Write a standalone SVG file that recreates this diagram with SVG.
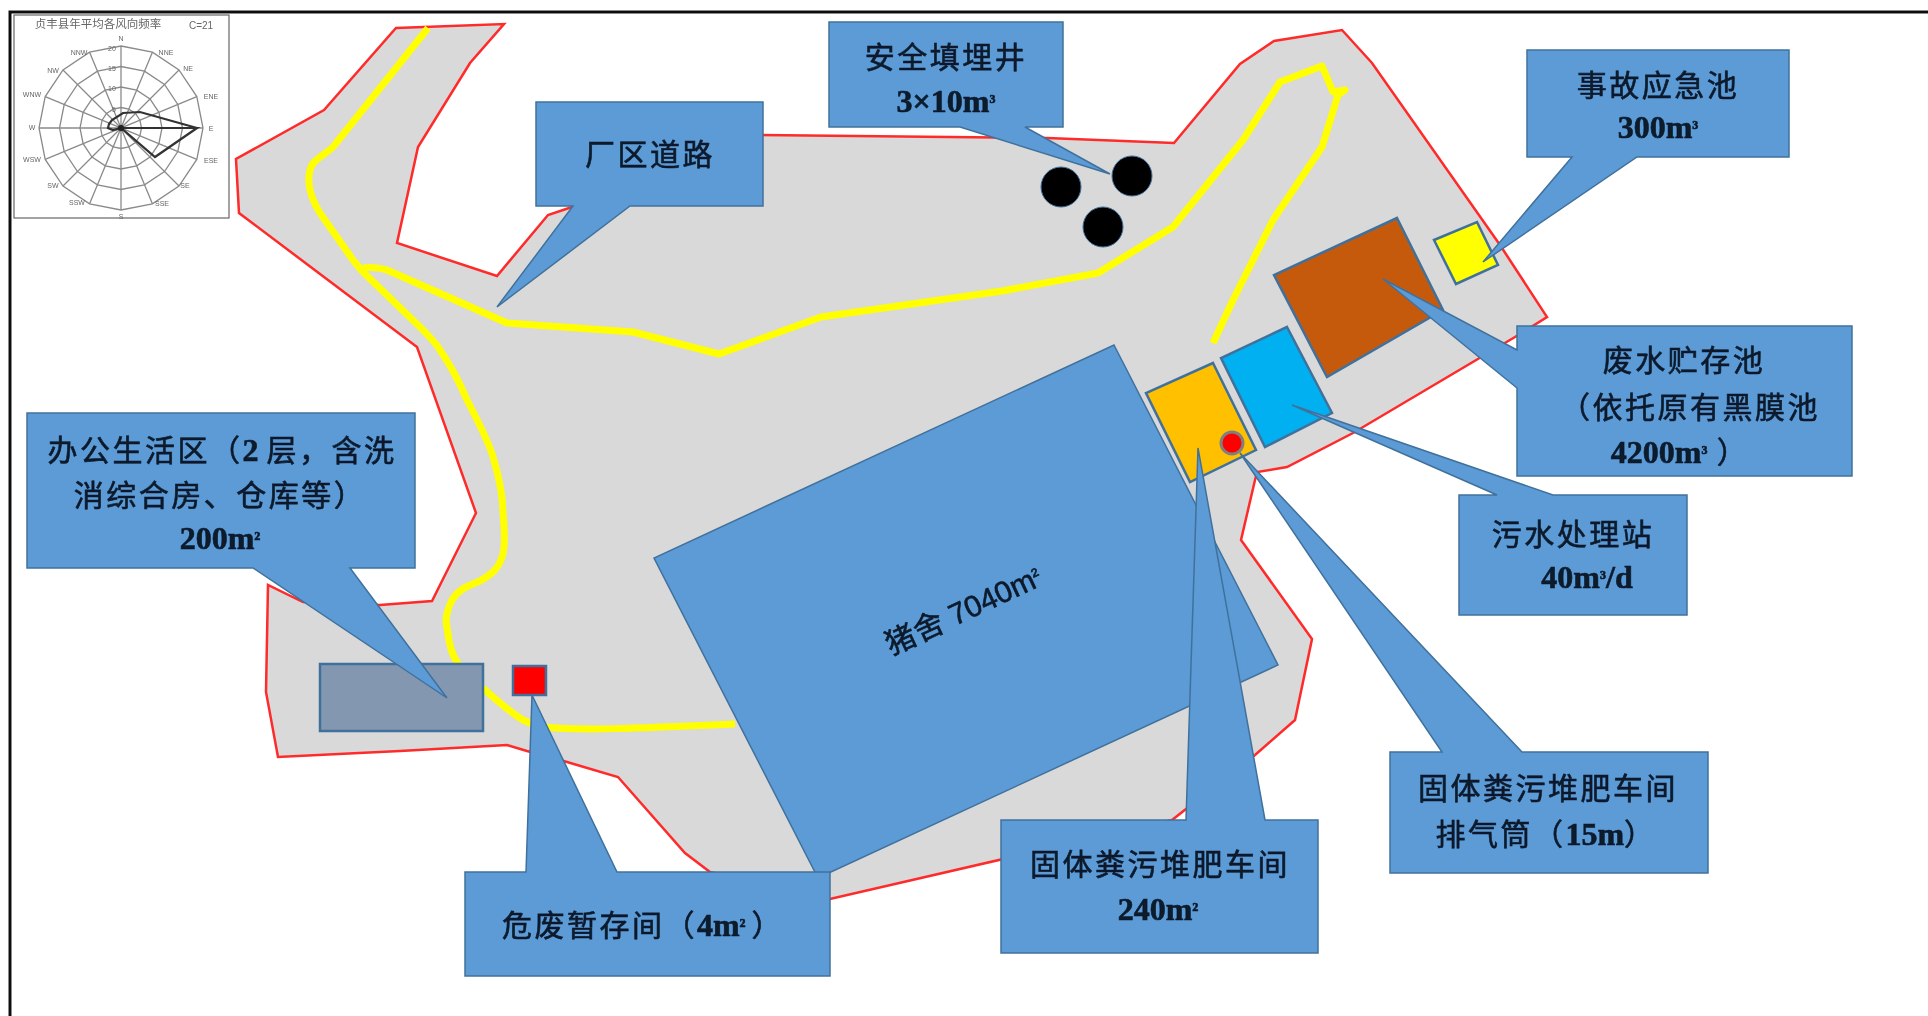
<svg xmlns="http://www.w3.org/2000/svg" width="1928" height="1016" viewBox="0 0 1928 1016">
<style>
.co{fill:#5B9BD5;stroke:#41719C;stroke-width:1.5}
.bd{stroke:#41719C;stroke-width:2.5}
.t{font-family:"Noto Sans CJK SC","Liberation Sans",sans-serif;font-size:30px;font-weight:400;fill:#0B1A2C;stroke:#0B1A2C;stroke-width:.6px;text-anchor:middle;letter-spacing:2.5px}
.n{font-family:"Liberation Serif",serif;font-size:32px;font-weight:700;letter-spacing:0}
.a{font-family:"Liberation Sans",sans-serif;letter-spacing:0}
.s{font-size:20px}
.rg{fill:none;stroke:#8a8a8a;stroke-width:1.3}
.wl{font-family:"Liberation Sans",sans-serif;font-size:7px;fill:#666;text-anchor:middle}
.road{fill:none;stroke:#FFFF00;stroke-width:7;stroke-linejoin:round}
</style>
<defs><filter id="soft" filterUnits="userSpaceOnUse" x="0" y="0" width="1928" height="1016"><feGaussianBlur stdDeviation="0.6"/></filter></defs>
<rect width="1928" height="1016" fill="#fff"/>
<g filter="url(#soft)">
<path id="frame" d="M10 1016V12H1928" fill="none" stroke="#111" stroke-width="3"/>
<g id="wind-rose">
<rect x="14" y="15" width="215" height="203" fill="#fff" stroke="#666" stroke-width="1.2"/>
<text x="98" y="28" font-family="Noto Sans CJK SC,sans-serif" font-size="11.5" fill="#666" text-anchor="middle">贞丰县年平均各风向频率</text>
<text x="201" y="29" class="wl" style="font-size:10px">C=21</text>
<polygon class="rg" points="121,46 152.4,52.2 179,70 196.8,96.6 203,128 196.8,159.4 179,186 152.4,203.8 121,210 89.6,203.8 63,186 45.2,159.4 39,128 45.2,96.6 63,70 89.6,52.2"/>
<polygon class="rg" points="121,66.5 144.5,71.2 164.5,84.5 177.8,104.5 182.5,128 177.8,151.5 164.5,171.5 144.5,184.8 121,189.5 97.5,184.8 77.5,171.5 64.2,151.5 59.5,128 64.2,104.5 77.5,84.5 97.5,71.2"/>
<polygon class="rg" points="121,87 136.7,90.1 150,99 158.9,112.3 162,128 158.9,143.7 150,157 136.7,165.9 121,169 105.3,165.9 92,157 83.1,143.7 80,128 83.1,112.3 92,99 105.3,90.1"/>
<polygon class="rg" points="121,107.5 128.8,109.1 135.5,113.5 139.9,120.2 141.5,128 139.9,135.8 135.5,142.5 128.8,146.9 121,148.5 113.2,146.9 106.5,142.5 102.1,135.8 100.5,128 102.1,120.2 106.5,113.5 113.2,109.1"/>
<path class="rg" d="M121 46V210M152.4 52.2L89.6 203.8M179 70L63 186M196.8 96.6L45.2 159.4M39 128H203M196.8 159.4L45.2 96.6M179 186L63 70M152.4 203.8L89.6 52.2"/>
<polygon points="121,128 197,128 140,112 123,113 112,120 109,124 108,128 113,130 121,128 155,157 197,128" fill="none" stroke="#333" stroke-width="2.2"/>
<circle cx="121" cy="128" r="3" fill="#222"/>
<g class="wl">
<text x="121" y="41">N</text><text x="166" y="55">NNE</text><text x="188" y="71">NE</text><text x="211" y="99">ENE</text><text x="211" y="131">E</text><text x="211" y="163">ESE</text><text x="185" y="188">SE</text><text x="162" y="206">SSE</text><text x="121" y="219">S</text><text x="77" y="205">SSW</text><text x="53" y="188">SW</text><text x="32" y="162">WSW</text><text x="32" y="130">W</text><text x="32" y="97">WNW</text><text x="53" y="73">NW</text><text x="79" y="55">NNW</text>
<text x="112" y="51">20</text><text x="112" y="71">15</text><text x="112" y="91">10</text><text x="114" y="112">5</text>
</g>
</g>
<g id="site">
<polygon points="396,28 504,24 470,63 418,147 397,243 497,276 548,215 572,207 760,135 1047,138 1174,143 1240,64 1274,41 1342,30 1372,63 1500,245 1547,317 1515,337 1353,433 1287,467 1257,472 1255,480 1241,540 1312,639 1295,720 1255,755 1186,809 1172,820 830,899 710,872 685,853 618,777 567,762 527,751 507,745 400,751 278,757 266,692 268,585 303,602 380,605 432,601 476,513 417,347 239,213 236,159 324,110" fill="#D9D9D9" stroke="#FF2A2A" stroke-width="2.5" stroke-linejoin="miter"/>
</g>
<g id="roads">
<path class="road" d="M428 28L333 147C322 157 312 160 310 170C306 185 312 200 320 213L353 260L363 272L420 327C430 337 436 343 440 350C455 372 462 388 467 400C480 425 490 445 493 457C500 480 503 500 503 513C505 535 505 550 502 557C498 570 490 575 480 581C465 587 458 590 452 600C447 610 445 620 447 627C449 645 452 655 457 662C465 675 475 685 485 690C500 703 510 712 523 720C535 726 545 728 557 728C590 730 620 729 735 724"/>
<path class="road" d="M363 268C372 267 380 268 387 270L507 323L633 332L719 354L821 317L1002 291L1098 273L1173 227L1243 140L1280 82L1322 66L1333 92L1345 90L1338 95L1322 147L1273 220L1233 300L1213 343"/>
</g>
<g id="wells"><circle cx="1061" cy="187" r="20" fill="#000" stroke="#41719C" stroke-width="1"/><circle cx="1132" cy="176" r="20" fill="#000" stroke="#41719C" stroke-width="1"/><circle cx="1103" cy="227" r="20" fill="#000" stroke="#41719C" stroke-width="1"/></g>
<g id="pig-house"><polygon class="co" points="1114,345 1278,665 818,878 654,558"/><text class="t" style="letter-spacing:1px" transform="translate(963,610) rotate(-25)" y="11">猪舍 <tspan class="a">7040m<tspan class="s" dy="-5">²</tspan></tspan></text></g>
<g id="compost"><polygon class="bd" points="1213,363 1256,450 1190,482 1146,393" fill="#FFC000"/></g>
<g id="wastewater"><polygon class="bd" points="1287,327 1332,413 1265,447 1221,358" fill="#00B0F0"/></g>
<g id="storage"><polygon class="bd" points="1397,218 1443,310 1327,377 1274,275" fill="#C55A11"/></g>
<g id="emergency"><polygon class="bd" points="1477,222 1498,265 1456,284 1434,240" fill="#FFFF00"/></g>
<g id="stack"><circle cx="1232" cy="443" r="11" fill="#FF0000" stroke="#7F7F7F" stroke-width="3"/></g>
<g id="office"><rect class="bd" x="320" y="664" width="163" height="67" fill="#8497B0"/></g>
<g id="hazard"><rect class="bd" x="513" y="666" width="33" height="29" fill="#FF0000"/></g>
<g id="c-road"><polygon class="co" points="536,102 763,102 763,206 630,206 497,307 573,206 536,206"/><text class="t" x="650" y="165">厂区道路</text></g>
<g id="c-well"><polygon class="co" points="829,22 1063,22 1063,127 1025,127 1110,174 960,127 829,127"/><text class="t" x="946" y="68">安全填埋井</text><text class="t" x="946" y="112"><tspan class="n">3×10m<tspan class="s" dy="-4">³</tspan></tspan></text></g>
<g id="c-emergency"><polygon class="co" points="1527,50 1789,50 1789,157 1637,157 1483,262 1572,157 1527,157"/><text class="t" x="1658" y="96">事故应急池</text><text class="t" x="1658" y="138"><tspan class="n">300m<tspan class="s" dy="-4">³</tspan></tspan></text></g>
<g id="c-storage"><polygon class="co" points="1517,326 1852,326 1852,476 1517,476 1517,388 1383,279 1517,350"/><text class="t" x="1684" y="371">废水贮存池</text><text class="t" x="1690" y="418">（依托原有黑膜池</text><text class="t" x="1680" y="463"><tspan class="n">4200m<tspan class="s" dy="-4">³</tspan></tspan><tspan dy="4"> ）</tspan></text></g>
<g id="c-wastewater"><polygon class="co" points="1459,495 1497,495 1292,405 1553,495 1687,495 1687,615 1459,615"/><text class="t" x="1573" y="545">污水处理站</text><text class="t" x="1587" y="588"><tspan class="n">40m<tspan class="s" dy="-4">³</tspan><tspan dy="4">/d</tspan></tspan></text></g>
<g id="c-stack"><polygon class="co" points="1390,752 1442,752 1240,453 1522,752 1708,752 1708,873 1390,873"/><text class="t" x="1548" y="799">固体粪污堆肥车间</text><text class="t" x="1546" y="845">排气筒（<tspan class="n">15m</tspan>）</text></g>
<g id="c-compost"><polygon class="co" points="1001,820 1186,820 1198,448 1265,820 1318,820 1318,953 1001,953"/><text class="t" x="1160" y="875">固体粪污堆肥车间</text><text class="t" x="1158" y="920"><tspan class="n">240m<tspan class="s" dy="-4">²</tspan></tspan></text></g>
<g id="c-hazard"><polygon class="co" points="465,872 526,872 532,695 617,872 830,872 830,976 465,976"/><text class="t" x="643" y="936">危废暂存间（<tspan class="n">4m<tspan class="s" dy="-4">²</tspan></tspan><tspan dy="4" dx="6">）</tspan></text></g>
<g id="c-office"><polygon class="co" points="27,413 415,413 415,568 350,568 447,698 253,568 27,568"/><text class="t" x="222" y="461">办公生活区（<tspan class="n">2 </tspan>层，含洗</text><text class="t" x="220" y="506">消综合房、仓库等）</text><text class="t" x="220" y="549"><tspan class="n">200m<tspan class="s" dy="-4">²</tspan></tspan></text></g>
</g>
</svg>
